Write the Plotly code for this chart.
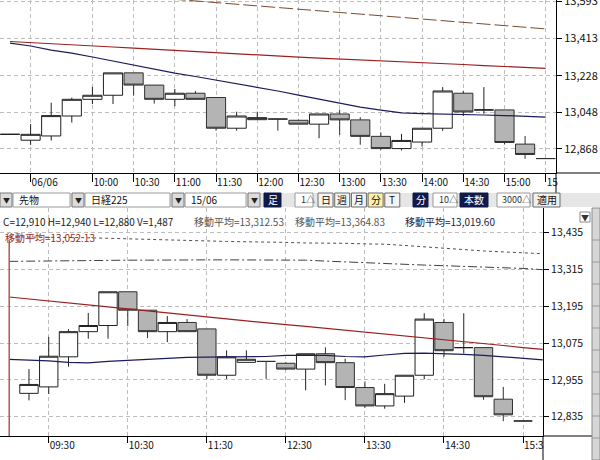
import plotly.graph_objects as go

W, H = 600, 460

# ---------------- data ----------------
bar_index = list(range(27))
opens  = [12940, 12911, 12932, 13030, 13112, 13132, 13242, 13182, 13112, 13142, 13121, 12970, 13012, 13015,
          13009, 12990, 13040, 13011, 12930, 12870, 12902, 12970, 13142, 13060, 13060, 12892, 12821]
highs  = [12940, 12990, 13095, 13120, 13173, 13242, 13242, 13182, 13163, 13153, 13121, 13051, 13051, 13015,
          13012, 13040, 13061, 13024, 12950, 12942, 12970, 13172, 13154, 13172, 13060, 12932, 12821]
lows   = [12940, 12888, 12909, 12998, 13089, 13089, 13130, 13091, 13078, 13112, 12958, 12958, 13012, 12958,
          12988, 12921, 12937, 12889, 12864, 12861, 12880, 12957, 13030, 13041, 12890, 12820, 12821]
closes = [12940, 12940, 13032, 13112, 13132, 13242, 13182, 13112, 13142, 13112, 12970, 13030, 13022, 13015,
          12990, 13040, 13011, 12930, 12870, 12910, 12970, 13153, 13050, 13060, 12900, 12841, 12821]

# top chart moving averages
top_ma_long = [13668, 13660, 13652, 13644, 13636, 13628, 13619, 13611, 13603, 13595, 13587, 13579, 13571, 13563,
               13555, 13547, 13539, 13530, 13522, 13514, 13506, 13498, 13490, 13482, 13474, 13466, 13458]
top_ma_mid = [13396, 13390, 13385, 13380, 13374, 13369, 13364, 13358, 13353, 13348, 13342, 13335, 13330, 13324,
              13319, 13314, 13310, 13305, 13301, 13297, 13292, 13287, 13283, 13278, 13274, 13269, 13264]
top_ma_short = [13388, 13374, 13354, 13339, 13320, 13300, 13280, 13261, 13241, 13224, 13207, 13187, 13170, 13153,
                13133, 13114, 13094, 13074, 13059, 13045, 13042, 13040, 13040, 13035, 13032, 13028, 13025]

# bottom chart moving averages
bot_ma_index = list(range(28))
bot_ma_dot = [13421, 13421, 13421, 13419, 13418, 13416, 13414, 13413, 13411, 13409, 13408, 13406, 13405, 13405,
              13403, 13401, 13401, 13400, 13398, 13397, 13393, 13388, 13383, 13378, 13375, 13372, 13370, 13366]
bot_ma_dashdot = [13341, 13342, 13343, 13343, 13343, 13344, 13345, 13345, 13346, 13346, 13346, 13346, 13346, 13346,
                  13345, 13345, 13342, 13339, 13337, 13334, 13332, 13329, 13327, 13325, 13323, 13320, 13318, 13314]
bot_ma_red = [13225, 13219, 13212, 13206, 13199, 13193, 13186, 13180, 13173, 13167, 13160, 13154, 13147, 13142,
              13135, 13129, 13123, 13117, 13111, 13105, 13098, 13092, 13086, 13080, 13073, 13067, 13060, 13054]
bot_ma_blue = [13022, 13020, 13017, 13012, 13010, 13015, 13018, 13023, 13026, 13028, 13029, 13029, 13030, 13031,
               13035, 13036, 13035, 13031, 13030, 13036, 13041, 13042, 13041, 13038, 13035, 13030, 13026, 13020]

top_tick_idx = [1, 4, 6, 8, 10, 12, 14, 16, 18, 20, 22, 24, 26]
top_tick_text = ["06/06", "10:00", "10:30", "11:00", "11:30", "12:00", "12:30", "13:00", "13:30",
                 "14:00", "14:30", "15:00", "15"]
bot_tick_idx = [2, 6, 10, 14, 18, 22, 26]
bot_tick_text = ["09:30", "10:30", "11:30", "12:30", "13:30", "14:30", "15:3"]
top_y_ticks = [12868, 13048, 13228, 13413, 13593]
bot_y_ticks = [12835, 12955, 13075, 13195, 13315, 13435]

info_text = "C=12,910 H=12,940 L=12,880 V=1,487"
ma_labels = ["移動平均=13,312.53", "移動平均=13,364.83", "移動平均=13,019.60"]
ma_red_label = "移動平均=13,052.13"

# ---------------- helpers ----------------
def px(x):
    return x / W

def py(y):
    return 1 - y / H

JPFONT = "Noto Sans CJK JP"
GRID = "#bdbdbd"

fig = go.Figure()

candle_style = dict(
    increasing=dict(fillcolor="white", line=dict(color="#202020", width=1)),
    decreasing=dict(fillcolor="#b4b4b4", line=dict(color="#303030", width=1)),
    whiskerwidth=0, showlegend=False, hoverinfo="skip",
)

# top chart
fig.add_trace(go.Scatter(x=bar_index, y=top_ma_long, mode="lines", xaxis="x", yaxis="y",
                         line=dict(color="#7a4a30", width=1, dash="14px,4px"), showlegend=False))
fig.add_trace(go.Scatter(x=bar_index, y=top_ma_mid, mode="lines", xaxis="x", yaxis="y",
                         line=dict(color="#9a2020", width=1.2), showlegend=False))
fig.add_trace(go.Scatter(x=bar_index, y=top_ma_short, mode="lines", xaxis="x", yaxis="y",
                         line=dict(color="#1c1c5a", width=1.2), showlegend=False))
fig.add_trace(go.Candlestick(x=bar_index, open=opens, high=highs, low=lows, close=closes,
                             xaxis="x", yaxis="y", **candle_style))

# bottom chart
fig.add_trace(go.Scatter(x=bot_ma_index, y=bot_ma_dot, mode="lines", xaxis="x2", yaxis="y2",
                         line=dict(color="#505050", width=1, dash="3px,3px"), showlegend=False))
fig.add_trace(go.Scatter(x=bot_ma_index, y=bot_ma_dashdot, mode="lines", xaxis="x2", yaxis="y2",
                         line=dict(color="#404040", width=1, dash="9px,3px,2px,3px"), showlegend=False))
fig.add_trace(go.Scatter(x=bot_ma_index, y=bot_ma_red, mode="lines", xaxis="x2", yaxis="y2",
                         line=dict(color="#9a2020", width=1.2), showlegend=False))
fig.add_trace(go.Scatter(x=bot_ma_index, y=bot_ma_blue, mode="lines", xaxis="x2", yaxis="y2",
                         line=dict(color="#1c1c5a", width=1.2), showlegend=False))
fig.add_trace(go.Candlestick(x=bar_index[1:], open=opens[1:], high=highs[1:], low=lows[1:], close=closes[1:],
                             xaxis="x2", yaxis="y2", **candle_style))

xcommon = dict(showline=True, linecolor="black", linewidth=1, ticks="outside", tickcolor="black",
               showgrid=True, gridcolor=GRID, griddash="4px,3px", gridwidth=1, zeroline=False,
               tickfont=dict(family=JPFONT, size=10, color="#111"), automargin=False,
               ticklabelposition="outside right", rangeslider=dict(visible=False), fixedrange=True)
ycommon = dict(side="right", showline=True, linecolor="black", linewidth=1, ticks="outside",
               tickcolor="black", ticklen=5, showgrid=True, gridcolor=GRID, griddash="4px,3px",
               zeroline=False, fixedrange=True, ticklabeloverflow="allow", automargin=False)

fig.update_layout(
    width=W, height=H, margin=dict(l=0, r=0, t=0, b=0, autoexpand=False),
    paper_bgcolor="white", plot_bgcolor="white", boxgap=0.07, boxgroupgap=0, showlegend=False,
    xaxis=dict(domain=[0, px(556)], range=[-0.485, 26.5], anchor="y",
               tickvals=top_tick_idx, ticktext=top_tick_text, ticklen=8, **xcommon),
    yaxis=dict(domain=[py(173), 1], range=[12750, 13600], anchor="x", mirror=True,
               tickvals=top_y_ticks, ticktext=[f"{v:,}" for v in top_y_ticks],
               tickfont=dict(family=JPFONT, size=11, color="#111"), **ycommon),
    xaxis2=dict(domain=[0, px(543)], range=[-0.466, 27.01], anchor="y2",
                tickvals=bot_tick_idx, ticktext=bot_tick_text, ticklen=6, **xcommon),
    yaxis2=dict(domain=[py(436), py(208)], range=[12772, 13515], anchor="x2",
                tickvals=bot_y_ticks, ticktext=[f"{v:,}" for v in bot_y_ticks],
                tickfont=dict(family=JPFONT, size=10.5, color="#111"), **ycommon),
)

shapes = []
annos = []

def rect(x0, y0, x1, y1, fill, line="#8a8a8a", lw=1, layer="above"):
    shapes.append(dict(type="rect", xref="paper", yref="paper", x0=px(x0), x1=px(x1),
                       y0=py(y1), y1=py(y0), fillcolor=fill,
                       line=dict(color=line, width=lw) if line else dict(width=0), layer=layer))

def hline(x0, x1, y, color="black", lw=1):
    shapes.append(dict(type="line", xref="paper", yref="paper", x0=px(x0), x1=px(x1),
                       y0=py(y), y1=py(y), line=dict(color=color, width=lw)))

def vline(x, y0, y1, color="black", lw=1):
    shapes.append(dict(type="line", xref="paper", yref="paper", x0=px(x), x1=px(x),
                       y0=py(y0), y1=py(y1), line=dict(color=color, width=lw)))

def text(x, y, s, size=10, color="#222", anchor="left"):
    annos.append(dict(xref="paper", yref="paper", x=px(x), y=py(y), text=s, showarrow=False,
                      xanchor=anchor, yanchor="middle", font=dict(family=JPFONT, size=size, color=color)))

# axis line extensions
hline(556, 600, 173)
vline(556, 173, 207)
hline(543, 592, 436)
vline(543, 436, 460)

# toolbar row
TY0, TY1 = 193, 207
rect(0, TY0, 600, TY1, "#e6e6e6", line=None)
def combo(x0, x1, label):
    rect(x0, TY0, x0 + 12, TY1, "#dcdcdc", line="#7a7a7a")
    text(x0 + 6, 200, "▼", size=7, color="#222", anchor="center")
    rect(x0 + 13, TY0, x1, TY1, "white", line="#9a9a9a")
    text(x0 + 17, 200, label, size=10, color="#111")
combo(0, 70, "先物")
combo(72, 170, "日経225")
combo(172, 246, "15/06")
rect(248, TY0, 260, TY1, "#dcdcdc", line="#7a7a7a")
text(254, 200, "▼", size=7, color="#222", anchor="center")
rect(264, TY0, 281, TY1, "#101a4a", line="#101a4a")
text(272.5, 200, "足", size=10, color="white", anchor="center")
rect(295, TY0, 313, TY1, "white", line="#9a9a9a")
text(299, 200, "1△", size=9, color="#333")
for i, lab in enumerate(["日", "週", "月", "分", "T"]):
    x0 = 318 + i * 16.7
    rect(x0, TY0, x0 + 15, TY1, "#fff2a8" if lab == "分" else "#f4f4f4", line="#6a6a6a")
    text(x0 + 7.5, 200, lab, size=10, color="#111", anchor="center")
rect(413, TY0, 428, TY1, "#101a4a", line="#101a4a")
text(420.5, 200, "分", size=10, color="white", anchor="center")
rect(433, TY0, 457, TY1, "white", line="#9a9a9a")
text(437, 200, "10△", size=9, color="#333")
rect(460, TY0, 488, TY1, "#101a4a", line="#101a4a")
text(474, 200, "本数", size=10, color="white", anchor="center")
rect(497, TY0, 530, TY1, "white", line="#9a9a9a")
text(500, 200, "3000△", size=9, color="#333")
rect(533, TY0, 560, TY1, "#f0f0f0", line="#6a6a6a")
text(546.5, 200, "適用", size=10, color="#111", anchor="center")

# right side panel
rect(592, 208, 600, 460, "#d6d6d6", line="#8a8a8a")
for yy in [240, 262, 284, 306, 328, 350, 372, 394, 416, 438]:
    hline(592, 600, yy, color="#9a9a9a")
rect(580, 212, 590, 222, "white", line="#8a8a8a")
text(585, 217, "▼", size=8, color="#333", anchor="center")

# cursor line in bottom chart
shapes.append(dict(type="line", xref="x2", yref="paper", x0=0, x1=0, y0=py(436), y1=py(240),
                   line=dict(color="#b05a4a", width=1.5)))

# info line
text(1, 221, info_text, size=10, color="#222")
text(192, 221, ma_labels[0], size=10, color="#555")
text(293, 221, ma_labels[1], size=10, color="#555")
text(403, 221, ma_labels[2], size=10, color="#1a1a40")
text(3, 237, ma_red_label, size=10, color="#a03020")

fig.update_layout(shapes=shapes, annotations=annos)
fig.write_html("out.html", config={"displayModeBar": False},
               post_script="document.body.style.margin='0px';document.body.style.overflow='hidden';")
